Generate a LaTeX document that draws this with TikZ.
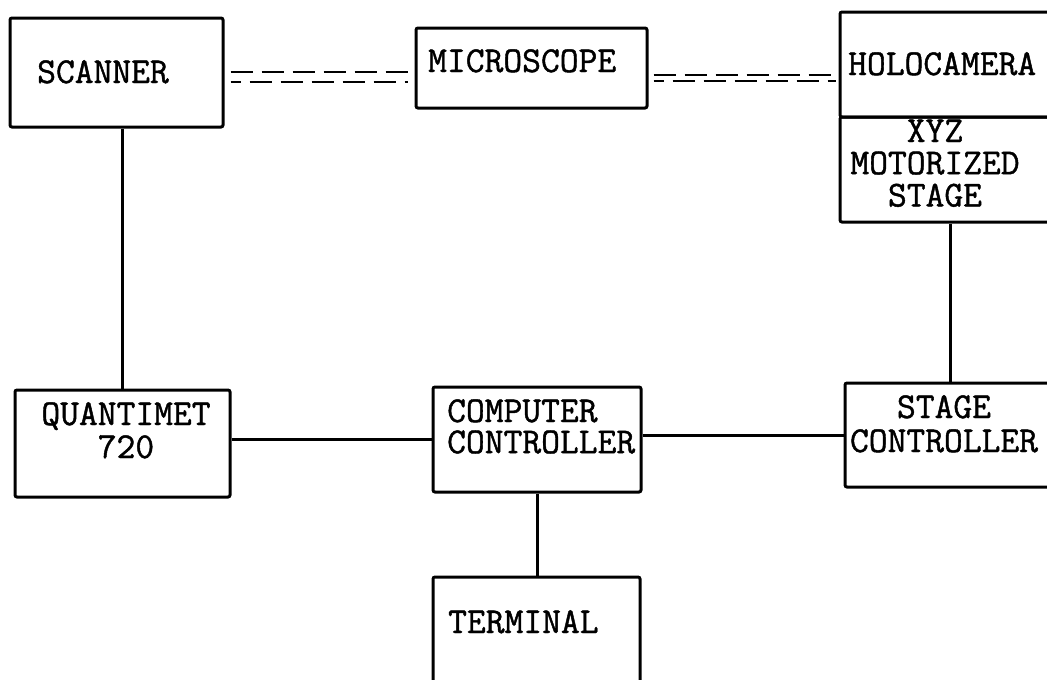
\documentclass[tikz,border=0pt]{standalone}
\usepackage{fontspec}
\newfontfamily\typew[FakeBold=1.2]{Latin Modern Mono}
\newcommand{\lines}[3]{{\fontsize{36.5}{#1}\selectfont\begin{tabular}[t]{@{}#2@{}}#3\end{tabular}}}
\begin{document}
\begin{tikzpicture}[x=1pt,y=-1pt,
  box/.style={draw,line width=3pt,rounded corners=2pt,inner sep=0pt},
  lbl/.style={font=\typew\fontsize{36.5}{40}\selectfont,inner sep=0pt,anchor=base west},
  lblc/.style={lbl,anchor=base},
  conn/.style={line width=3pt},
  dbl/.style={line width=2.4pt,dash pattern=on 22pt off 9pt}]
\useasboundingbox (0,0) rectangle (1047,680);
\clip (0,0) rectangle (1047,680);
\fill[white] (0,0) rectangle (1047,680);
% boxes
\node[box,minimum width=213pt,minimum height=109pt] (scanner) at (116.5,72.5) {};
\node[box,minimum width=231pt,minimum height=80pt] (micro) at (531.5,68) {};
\node[box,minimum width=220pt,minimum height=105pt] (holo) at (950,64.5) {};
\node[box,minimum width=220pt,minimum height=105pt] (xyz) at (950,169.5) {};
\node[box,minimum width=215pt,minimum height=107pt] (quant) at (122.5,443.5) {};
\node[box,minimum width=208pt,minimum height=105pt] (comp) at (537,439.5) {};
\node[box,minimum width=215pt,minimum height=104pt] (stagec) at (952.5,435) {};
\node[box,minimum width=207pt,minimum height=123pt] (term) at (536.5,638.5) {};
% labels
\node[lbl] (tscanner) at (37,83) {SCANNER};
\node[lbl] (tmicro) at (428,72) {MICROSCOPE};
\node[lbl] (tholo) at (848,75) {HOLOCAMERA};
\node[lblc] (txyz) at (935,142) {\lines{31.5}{c}{XYZ\\MOTORIZED\\STAGE}};
\node[lblc] (tquant) at (126,425) {\lines{33}{c}{QUANTIMET\\720}};
\node[lbl] (tcomp) at (447,422) {\lines{28}{l}{COMPUTER\\CONTROLLER}};
\node[lblc] (tstage) at (944,418) {\lines{34}{c}{STAGE\\CONTROLLER}};
\node[lbl] (tterm) at (448,633) {TERMINAL};
% solid connectors
\draw[conn] (quant.north |- scanner.south) -- (quant.north);
\draw[conn] (quant.east |- comp.west) -- (comp.west);
\draw[conn] (comp.east |- stagec.west) -- (stagec.west);
\draw[conn] (xyz.south) -- (xyz.south |- stagec.north);
\draw[conn] (comp.south) -- (comp.south |- term.north);
% double dashed connectors
\draw[dbl] ([xshift=6pt]scanner.east |- 0,72) -- ([xshift=-7pt]micro.west |- 0,72);
\draw[dbl,dash phase=12pt] ([xshift=6pt]scanner.east |- 0,82) -- ([xshift=-7pt]micro.west |- 0,82);
\draw[dbl] ([xshift=5pt]micro.east |- 0,75) -- ([xshift=-3pt]holo.west |- 0,75);
\draw[dbl,dash phase=12pt] ([xshift=5pt]micro.east |- 0,81) -- ([xshift=-3pt]holo.west |- 0,81);
\end{tikzpicture}
\end{document}
